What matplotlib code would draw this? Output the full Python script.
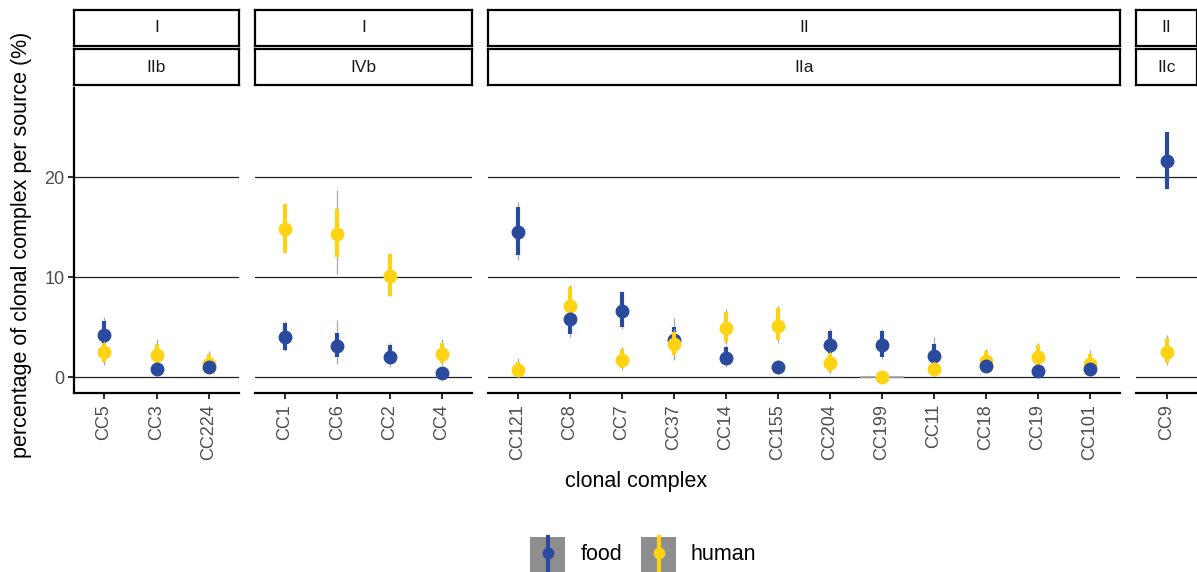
import numpy as np
import matplotlib
matplotlib.use("Agg")
import matplotlib.pyplot as plt
from matplotlib.patches import Rectangle

plt.rcParams['font.family'] = ['Liberation Sans', 'DejaVu Sans']

# facet labels and categories
lineage = ["I", "I", "II", "II"]
sublineage = ["IIb", "IVb", "IIa", "IIc"]
panel_ccs = [
    ["CC5", "CC3", "CC224"],
    ["CC1", "CC6", "CC2", "CC4"],
    ["CC121", "CC8", "CC7", "CC37", "CC14", "CC155", "CC204", "CC199",
     "CC11", "CC18", "CC19", "CC101"],
    ["CC9"],
]
cc_order = [cc for grp in panel_ccs for cc in grp]

# food: median, 66% interval, 95% interval
food_med  = [4.2, 0.8, 1.0, 4.0, 3.1, 2.0, 0.4, 14.5, 5.8, 6.6, 3.7, 1.9, 1.0, 3.2, 3.2, 2.1, 1.1, 0.6, 0.8, 21.6]
food_lo66 = [3.2, 0.4, 0.6, 2.7, 2.0, 1.3, 0.1, 12.2, 4.3, 5.0, 2.5, 1.2, 0.5, 2.4, 2.0, 1.1, 0.7, 0.3, 0.4, 18.8]
food_hi66 = [5.6, 1.2, 1.4, 5.4, 4.4, 3.2, 0.8, 17.0, 6.4, 8.5, 5.0, 3.0, 1.5, 4.6, 4.6, 3.3, 1.6, 1.0, 1.2, 24.5]
food_lo95 = [2.6, 0.2, 0.4, 2.6, 1.3, 1.0, 0.0, 11.7, 4.0, 4.8, 1.7, 1.0, 0.3, 2.1, 1.8, 0.9, 0.5, 0.2, 0.3, 18.8]
food_hi95 = [6.0, 1.4, 1.6, 5.6, 5.7, 3.4, 1.0, 17.5, 6.6, 8.6, 5.9, 3.2, 1.7, 4.9, 4.8, 4.0, 1.8, 1.2, 1.4, 24.5]

# human: median, 66% interval, 95% interval
human_med  = [2.5, 2.2, 1.3, 14.8, 14.3, 10.1, 2.3, 0.7, 7.1, 1.7, 3.3, 4.9, 5.1, 1.4, 0.0, 0.8, 1.6, 2.0, 1.3, 2.5]
human_lo66 = [1.5, 1.0, 0.8, 12.4, 12.0, 8.1, 1.4, 0.0, 5.7, 0.9, 2.2, 3.5, 3.7, 0.5, 0.0, 0.2, 0.7, 0.9, 0.4, 1.4]
human_hi66 = [3.4, 3.3, 2.3, 17.3, 16.8, 12.3, 3.4, 1.5, 9.0, 2.8, 4.5, 6.5, 6.9, 2.4, 0.0, 1.4, 2.6, 3.2, 2.3, 3.9]
human_lo95 = [1.2, 0.8, 0.6, 12.4, 10.3, 8.1, 1.2, 0.0, 5.5, 0.7, 1.8, 3.3, 3.4, 0.4, 0.0, 0.1, 0.5, 0.7, 0.3, 1.2]
human_hi95 = [3.6, 3.8, 2.6, 17.4, 18.7, 12.4, 3.8, 1.9, 9.2, 3.0, 4.8, 6.8, 7.1, 2.6, 0.0, 1.6, 2.8, 3.4, 2.7, 4.2]

sources = ["food", "human"]
colors = {"food": "#2A4A9E", "human": "#FDD314"}
series = {
    "food": (food_med, food_lo66, food_hi66, food_lo95, food_hi95),
    "human": (human_med, human_lo66, human_hi66, human_lo95, human_hi95),
}

W, H = 1197, 572
fig = plt.figure(figsize=(W / 100, H / 100), dpi=100)


def px_axes(x0, y0, x1, y1):
    # pixel box (top-left origin) -> figure axes
    return fig.add_axes([x0 / W, 1 - y1 / H, (x1 - x0) / W, (y1 - y0) / H])


panel_x = [(74, 239), (255, 472), (488, 1120), (1136, 1197)]
top, bottom = 88, 393

for p, ccs in enumerate(panel_ccs):
    x0, x1 = panel_x[p]
    ax = px_axes(x0, top, x1, bottom)
    n = len(ccs)
    ax.set_xlim(-0.575, n - 0.425)
    ax.set_ylim(-1.6, 28.9)
    for v in [0, 10, 20]:
        ax.axhline(v, color="#222222", lw=0.9, zorder=0)

    idx = [cc_order.index(c) for c in ccs]
    xs = np.arange(n)
    for j, i in enumerate(idx):
        meds = {s: series[s][0][i] for s in sources}
        for s in sources:
            med, lo66, hi66, lo95, hi95 = (arr[i] for arr in series[s])
            # lower median drawn on top
            z = 3 if med <= min(meds.values()) else 2
            other = [m for k, m in meds.items() if k != s][0]
            if med == other:
                z = 3 if s == "human" else 2
            if hi95 - lo95 == 0:
                ax.hlines(med, xs[j] - 0.43, xs[j] + 0.43, color="#A8A8A8", lw=1.2, zorder=z)
            ax.vlines(xs[j], lo95, hi95, color="#A8A8A8", lw=0.9, zorder=z)
            ax.vlines(xs[j], lo66, hi66, color=colors[s], lw=3.0, zorder=z)
            ax.plot(xs[j], med, "o", color=colors[s], ms=10, mec="none", zorder=z)

    ax.set_xticks(xs)
    ax.set_xticklabels(ccs, rotation=90, fontsize=13, color="#4D4D4D")
    ax.tick_params(axis="x", length=4, width=1.5, color="#333333", pad=4)
    for sp in ["top", "right"]:
        ax.spines[sp].set_visible(False)
    ax.spines["bottom"].set_linewidth(1.6)
    if p == 0:
        ax.set_yticks([0, 10, 20])
        ax.set_yticklabels(["0", "10", "20"], fontsize=13, color="#4D4D4D")
        ax.tick_params(axis="y", length=4, width=1.5, color="#333333", pad=3)
        ax.spines["left"].set_linewidth(1.6)
    else:
        ax.spines["left"].set_visible(False)
        ax.set_yticks([])

    # strips
    for (sy0, sy1, lab) in [(10, 46, lineage[p]), (49, 85, sublineage[p])]:
        sax = px_axes(x0, sy0, x1, sy1)
        sax.set_xticks([])
        sax.set_yticks([])
        for sp in sax.spines.values():
            sp.set_linewidth(1.6)
        sax.text(0.5, 0.5, lab, ha="center", va="center", fontsize=12.5,
                 color="#1A1A1A", transform=sax.transAxes)

fig.text(636 / W, 1 - 482 / H, "clonal complex", ha="center", va="center", fontsize=15.5)
fig.text(22 / W, 1 - 245 / H, "percentage of clonal complex per source (%)",
         ha="center", va="center", rotation=90, fontsize=15.5)

# legend
lax = fig.add_axes([0, 0, 1, 1])
lax.set_xlim(0, W)
lax.set_ylim(H, 0)
lax.axis("off")
for s, kx, tx in [("food", 530, 581), ("human", 641, 691)]:
    lax.add_patch(Rectangle((kx, 537), 35, 36, color="#8E8E8E", lw=0))
    lax.plot([kx + 17.5, kx + 17.5], [537, 573], color=colors[s], lw=3.0)
    lax.plot(kx + 17.5, 553, "o", color=colors[s], ms=8.5, mec="none")
    lax.text(tx, 554, s, ha="left", va="center", fontsize=15.5)

fig.savefig("out.png", dpi=100)
